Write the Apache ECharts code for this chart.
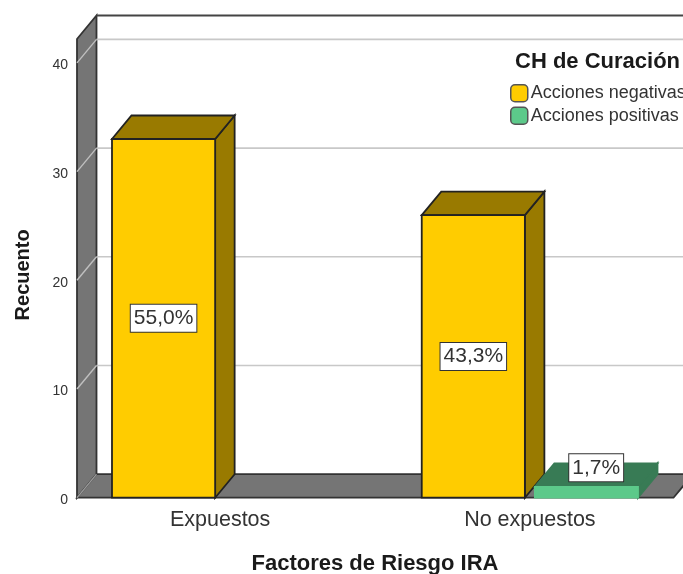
<!DOCTYPE html>
<html>

<head>
    <meta charset="utf-8">
    <script src="https://cdn.jsdelivr.net/npm/echarts@6/dist/echarts.min.js"></script>
</head>

<body>
    <div id="chart"></div>
</body>
<style>
    body {
        margin: 0;
        background: #fff;
    }

    #chart {
        width: 683px;
        height: 574px;
    }
</style>
<script>
    const categories = ['Expuestos', 'No expuestos']
    const negativas = [33, 26]
    const positivas = [null, 1]
    const negativasPct = ['55,0%', '43,3%']
    const positivasPct = [null, '1,7%']
    const yTicks = [0, 10, 20, 30, 40]

    const FONT = '"Liberation Sans", Arial, sans-serif'
    const depthX = 19.5
    const depthY = -23.5
    // the walls sit a bit inside the band area of the category axis
    const wallLeft = 11.75
    const wallRight = 11.25
    const barFrac = 0.333
    const barOffset = 0.1826

    const chart = echarts.init(document.getElementById('chart'))

    function poly(points, fill, stroke, width) {
        return {
            type: 'polygon',
            shape: { points },
            style: { fill, stroke: stroke || fill, lineWidth: width || 1 }
        }
    }

    function line(x1, y1, x2, y2, stroke, width) {
        return {
            type: 'line',
            shape: { x1, y1, x2, y2 },
            style: { stroke, lineWidth: width }
        }
    }

    // walls, floor and grid lines
    function renderFrame(params, api) {
        const cs = params.coordSys
        const x0 = cs.x + wallLeft
        const x1 = cs.x + cs.width - wallRight
        const yBase = cs.y + cs.height
        const yTop = cs.y
        const y = api.coord([0, api.value(0)])[1]
        const children = []
        if (params.dataIndex === 0) {
            children.push(poly([[x0, yTop], [x0 + depthX, yTop + depthY], [x0 + depthX, yBase + depthY], [x0, yBase]], '#757575', '#333', 1.8))
            children.push(poly([[x0, yBase], [x0 + depthX, yBase + depthY], [x1 + depthX, yBase + depthY], [x1, yBase]], '#757575', '#333', 1.8))
            children.push(line(x0 + depthX, yTop + depthY, x1 + depthX, yTop + depthY, '#444', 2))
        }
        children.push(line(x0, y, x0 + depthX, y + depthY, params.dataIndex === 0 ? '#999' : '#c0c0c0', 1.4))
        if (params.dataIndex > 0) {
            children.push(line(x0 + depthX, y + depthY, x1 + depthX, y + depthY, '#c8c8c8', 1.6))
        }
        return { type: 'group', children }
    }

    function makeBar(dir, front, dark, edge, labels) {
        return function (params, api) {
            if (api.value(1) == null || isNaN(api.value(1))) {
                return
            }
            const band = api.size([1, 0])[0]
            const base = api.coord([api.value(0), 0])
            const top = api.coord([api.value(0), api.value(1)])
            const w = band * barFrac
            const xl = base[0] + dir * band * barOffset - w / 2
            const xr = xl + w
            const yt = top[1]
            const yb = base[1]
            const dx = depthX
            const dy = depthY
            const boxH = 28
            const short = yb - yt < boxH
            return {
                type: 'group',
                children: [
                    poly([[xr, yb], [xr + dx, yb + dy], [xr + dx, yt + dy], [xr, yt]], dark, edge, 1.8),
                    poly([[xl, yt], [xl + dx, yt + dy], [xr + dx, yt + dy], [xr, yt]], dark, edge, 1.8),
                    poly([[xl, yt], [xr, yt], [xr, yb], [xl, yb]], front, edge, 1.8),
                    {
                        type: 'text',
                        x: (xl + xr) / 2 + (short ? dx / 2 : 0),
                        y: short ? yt - 19 : (yt + yb) / 2,
                        style: {
                            text: labels[params.dataIndex],
                            font: '21px ' + FONT,
                            fill: '#333',
                            align: 'center',
                            verticalAlign: 'middle',
                            backgroundColor: '#fff',
                            borderColor: '#333',
                            borderWidth: 1,
                            padding: [3, 3, 3, 3]
                        }
                    }
                ]
            }
        }
    }

    const option = {
        animation: false,
        backgroundColor: '#fff',
        title: {
            text: 'CH de Curación',
            left: 515,
            top: 51,
            padding: 0,
            textStyle: { fontFamily: FONT, fontSize: 22, fontWeight: 'bold', color: '#1a1a1a' }
        },
        legend: {
            orient: 'vertical',
            left: 510,
            top: 84,
            padding: 0,
            itemWidth: 17,
            itemHeight: 17,
            itemGap: 4,
            icon: 'roundRect',
            textStyle: { fontFamily: FONT, fontSize: 18, color: '#333', padding: [0, 0, 0, -2] },
            data: [
                { name: 'Acciones negativas', itemStyle: { color: '#FFCC00', borderColor: '#555', borderWidth: 1.5 } },
                { name: 'Acciones positivas', itemStyle: { color: '#5CC98A', borderColor: '#555', borderWidth: 1.5 } }
            ]
        },
        grid: {
            left: 65.25,
            top: 39,
            width: 619.5,
            height: 458.7,
            outerBoundsMode: 'none'
        },
        xAxis: {
            type: 'category',
            data: categories,
            name: 'Factores de Riesgo IRA',
            nameLocation: 'middle',
            nameGap: 55,
            nameTextStyle: { fontFamily: FONT, fontSize: 22, fontWeight: 'bold', color: '#1a1a1a' },
            axisLine: { show: false },
            axisTick: { show: false },
            axisLabel: { fontFamily: FONT, fontSize: 21.5, color: '#333', margin: 11 }
        },
        yAxis: {
            type: 'value',
            min: 0,
            max: 42.2,
            interval: 10,
            offset: -11.75,
            name: 'Recuento',
            nameLocation: 'middle',
            nameGap: 44,
            nameTextStyle: { fontFamily: FONT, fontSize: 20, fontWeight: 'bold', color: '#1a1a1a', padding: [0, 13, 0, 0] },
            axisLine: { show: false },
            axisTick: { show: false },
            splitLine: { show: false },
            axisLabel: { fontFamily: FONT, fontSize: 14, color: '#333', margin: 9, showMaxLabel: false, verticalAlign: 'top', lineHeight: 5 }
        },
        series: [
            {
                type: 'custom',
                name: 'Marco',
                silent: true,
                encode: { y: 0 },
                data: yTicks.map(v => [v]),
                renderItem: renderFrame
            },
            {
                type: 'custom',
                name: 'Acciones negativas',
                encode: { x: 0, y: 1 },
                itemStyle: { color: '#FFCC00' },
                data: negativas.map((v, i) => [i, v]),
                renderItem: makeBar(-1, '#FFCC00', '#997A00', '#222', negativasPct)
            },
            {
                type: 'custom',
                name: 'Acciones positivas',
                encode: { x: 0, y: 1 },
                itemStyle: { color: '#5CC98A' },
                data: positivas.map((v, i) => [i, v]),
                renderItem: makeBar(1, '#5CC98A', '#387B55', null, positivasPct)
            }
        ]
    }

    chart.setOption(option)
</script>

</html>
